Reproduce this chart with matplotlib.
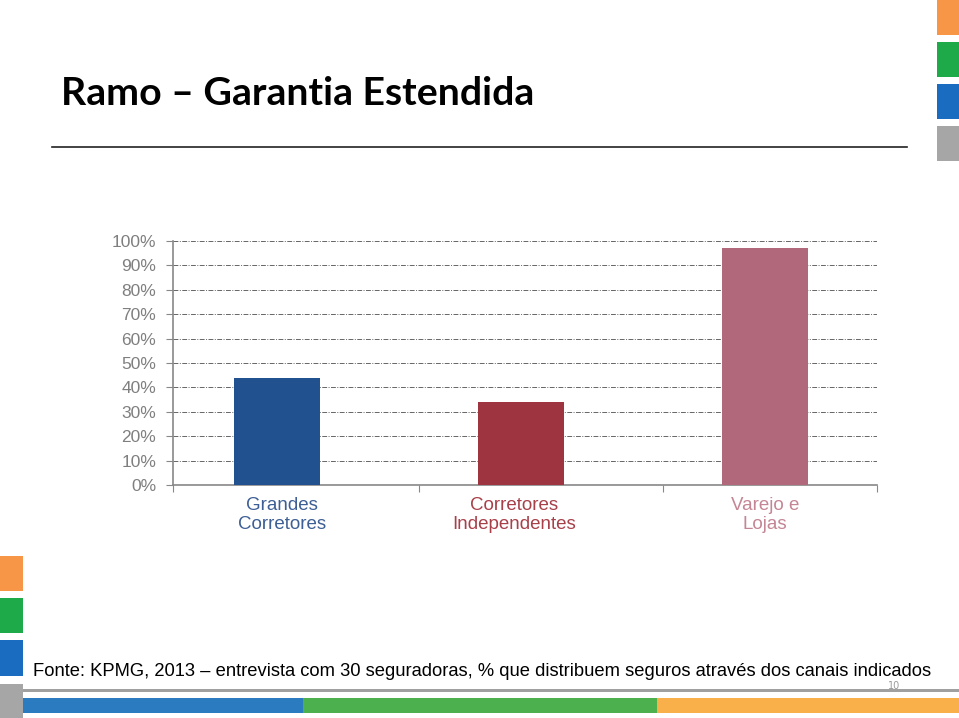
import matplotlib.pyplot as plt
from matplotlib.patches import Rectangle
from matplotlib.lines import Line2D

# data
categories = ["Grandes\nCorretores", "Corretores\nIndependentes", "Varejo e\nLojas"]
values = [0.44, 0.34, 0.97]
bar_colors = ["#22518f", "#9e3440", "#b1687a"]
label_colors = ["#3d5f95", "#a8404a", "#c48594"]
yticks = [i / 10 for i in range(11)]
ytick_labels = ["%d%%" % (t * 100) for t in yticks]

title = "Ramo \u2013 Garantia Estendida"
source = ("Fonte: KPMG, 2013 \u2013 entrevista com 30 seguradoras, "
          "% que distribuem seguros atrav\u00e9s dos canais indicados")

W, H = 959, 718
fig = plt.figure(figsize=(W / 100, H / 100), dpi=100)

def px(x, y):
    # pixel coords (top-left origin) -> figure fraction
    return x / W, 1 - y / H

def rect(x0, y0, x1, y1, color):
    fig.patches.append(Rectangle((x0 / W, 1 - y1 / H), (x1 - x0) / W, (y1 - y0) / H,
                                 transform=fig.transFigure, color=color, lw=0))

def fit_width(t, target_px):
    # shrink/grow a text so it spans target_px
    r = fig.canvas.get_renderer()
    w = t.get_window_extent(renderer=r).width
    t.set_fontsize(t.get_fontsize() * target_px / w)

# slide decorations
orange, green, blue, gray = "#f79646", "#1faa4a", "#1a6cc0", "#a6a6a6"
for (y0, y1), c in zip([(0, 35), (42, 77), (84, 119), (126, 161)], [orange, green, blue, gray]):
    rect(937, y0, 959, y1, c)
for (y0, y1), c in zip([(556, 591), (598, 633), (640, 676), (684, 718)], [orange, green, blue, gray]):
    rect(0, y0, 23, y1, c)
rect(23, 689, 959, 692, "#a0a0a0")
rect(23, 698, 303, 713, "#2a7bbf")
rect(303, 698, 657, 713, "#4db04e")
rect(657, 698, 959, 713, "#f9b04a")

fig.lines.append(Line2D([52 / W, 907 / W], [1 - 147 / H] * 2, transform=fig.transFigure,
                        color="#222222", lw=1.2))

t1 = fig.text(*px(61, 105), title, fontsize=28, fontweight="bold", family="Lato",
              va="baseline", ha="left", color="black")
t2 = fig.text(*px(33, 676), source, fontsize=14, family=["Liberation Sans", "DejaVu Sans"],
              va="baseline", ha="left", color="black")
fig.text(*px(894, 689), "10", fontsize=7, color="#999999", va="baseline", ha="center")
fit_width(t1, 474)
fit_width(t2, 905)

# chart
x0, x1 = -0.426, 2.459
left, right = 173 / W, 877 / W
bottom, top = 1 - 485 / H, 1 - 241 / H
ax = fig.add_axes([left, bottom, right - left, top - bottom])
xs = list(range(len(values)))
ax.bar(xs, values, width=0.352, color=bar_colors, zorder=3)
ax.set_xlim(x0, x1)
ax.set_ylim(0, 1.0)

ax.set_yticks(yticks)
ax.set_yticklabels(ytick_labels, fontsize=12.5, color="#7f7f7f",
                   family=["Liberation Sans", "DejaVu Sans"])
ax.tick_params(axis="y", direction="out", length=5, color="#888888", pad=7)

ax.set_xticks([x0, 0.582, 1.582, x1])
ax.set_xticklabels([])
ax.tick_params(axis="x", which="major", direction="out", length=5, color="#888888")
ax.set_xticks([0.02, 0.97, 2.0], minor=True)
ax.set_xticklabels(categories, minor=True, fontsize=13.5,
                   family=["Liberation Sans", "DejaVu Sans"], linespacing=1.15)
ax.tick_params(axis="x", which="minor", length=0, pad=9)
for lbl, c in zip(ax.get_xticklabels(minor=True), label_colors):
    lbl.set_color(c)

ax.yaxis.grid(True, linestyle=(0, (5, 1.5, 1, 1.5)), color="#666666", lw=0.7, zorder=0)
ax.set_axisbelow(True)
for s in ["top", "right"]:
    ax.spines[s].set_visible(False)
ax.spines["left"].set_color("#888888")
ax.spines["bottom"].set_color("#888888")
ax.spines["left"].set_linewidth(1.2)
ax.spines["bottom"].set_linewidth(1.2)

fig.savefig("out.png", dpi=100)
